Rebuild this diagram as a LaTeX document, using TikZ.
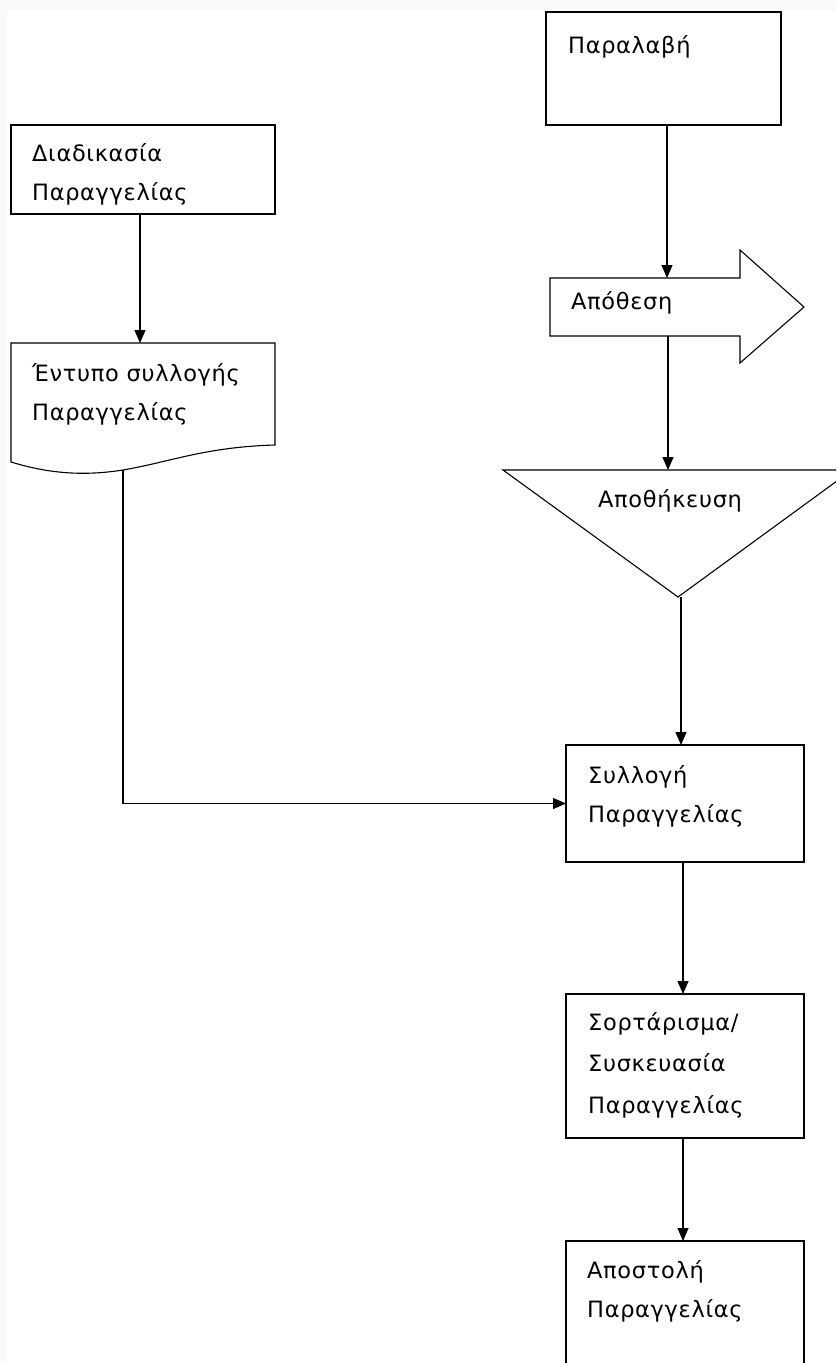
\documentclass[tikz,border=0pt]{standalone}
\usepackage{fontspec}
\setmainfont[LetterSpace=3]{DejaVu Sans}
\usetikzlibrary{arrows.meta}
\begin{document}
\begin{tikzpicture}[x=1pt,y=-1pt,
  box/.style={draw, line width=1.1pt, inner sep=0pt, outer sep=0pt},
  txt/.style={anchor=base west, align=left, inner sep=0pt, font=\fontsize{22.5}{39}\selectfont},
  arr/.style={line width=1.1pt, -{Triangle[length=13pt,width=11pt]}},
  ln/.style={line width=1.1pt}]
\useasboundingbox (0,0) rectangle (836,1363);
\clip (0,0) rectangle (836,1363);
\fill[gray!5] (0,0) rectangle (836,1363);
\fill[white] (7,10) rectangle (836,1363);

% boxes
\node[box, minimum width=235pt, minimum height=113pt] (recv) at (663.5,68.5) {};
\node[box, minimum width=264pt, minimum height=89pt] (proc) at (143,169.5) {};
\node[box, minimum width=238pt, minimum height=117pt] (collect) at (685,803.5) {};
\node[box, minimum width=238pt, minimum height=144pt] (sort) at (685,1066) {};
\node[box, minimum width=238pt, minimum height=159pt] (ship) at (685,1320.5) {};

% document shape
\draw[ln] (11,343) -- (275,343) -- (275,445)
  .. controls (205,447) and (170,462) .. (123,470)
  .. controls (85,476) and (50,474) .. (11,462) -- cycle;
\coordinate (docN) at (140,343);
\coordinate (docS) at (123,470);

% block arrow
\draw[ln] (550,278) -- (740,278) -- (740,250) -- (804,307) -- (740,363) -- (740,336) -- (550,336) -- cycle;
\coordinate (depoN) at (667,278);
\coordinate (depoS) at (668,336);

% triangle
\draw[ln] (503,470) -- (852,470) -- (678,597) -- cycle;
\coordinate (storeN) at (668,470);
\coordinate (storeS) at (681,597);

% texts (anchor = baseline of last line)
\node[txt] (t1) at (568,53) {Παραλαβή};
\node[txt] (t2) at (32,200) {Διαδικασία\\Παραγγελίας};
\node[txt] (t3) at (32,420) {Έντυπο συλλογής\\Παραγγελίας};
\node[txt] (t4) at (571,309) {Απόθεση};
\node[txt] (t5) at (598,507) {Αποθήκευση};
\node[txt] (t6) at (588,822) {Συλλογή\\Παραγγελίας};
\node[txt, font=\fontsize{22.5}{41.5}\selectfont] (t7) at (588,1113) {Σορτάρισμα/\\Συσκευασία\\Παραγγελίας};
\node[txt] (t8) at (587,1317) {Αποστολή\\Παραγγελίας};

% connectors
\draw[arr] (recv.south -| depoN) -- (depoN);
\draw[arr] (proc.south -| docN) -- (docN);
\draw[arr] (depoS) -- (storeN);
\draw[arr] (storeS) -- (storeS |- collect.north);
\draw[arr] (docS) |- (collect.west);
\draw[arr] ([xshift=-2pt]collect.south) -- ([xshift=-2pt]sort.north);
\draw[arr] ([xshift=-2pt]sort.south) -- ([xshift=-2pt]ship.north);
\end{tikzpicture}
\end{document}
